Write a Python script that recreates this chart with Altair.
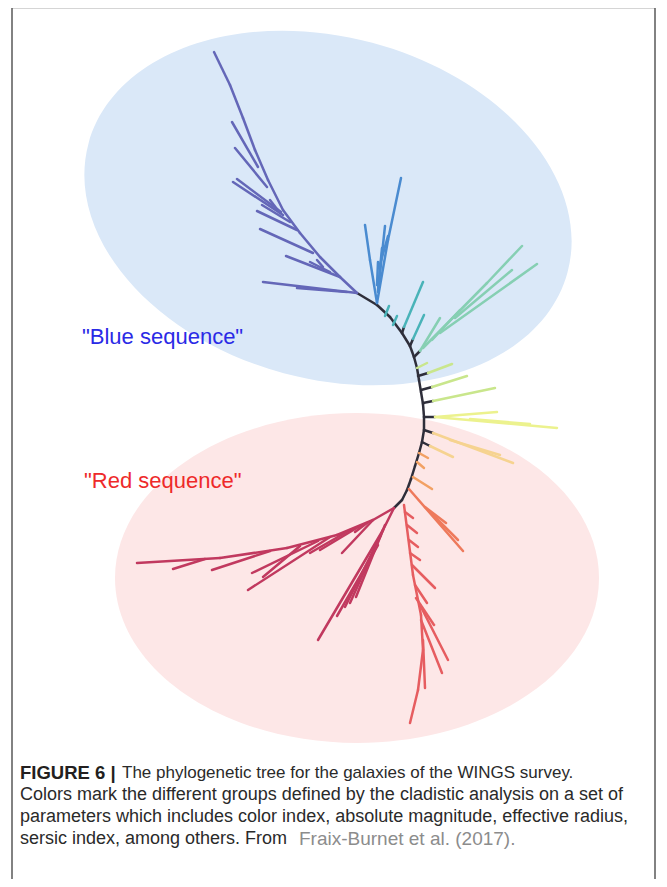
import altair as alt
import pandas as pd

# ---------------- data (figure coordinates, y grows downward) ----------------
ell_cx = [328, 357]
ell_cy = [208, 578]
ell_rx = [248, 242]
ell_ry = [171, 165]
ell_tilt = [15, 0]
ell_fill = ["#dae8f8", "#fde7e7"]

groups = ["stem", "purple", "blue", "teal", "green", "lime", "yellow",
          "paleorange", "orange", "corallight", "coral", "crimson"]
group_colors = ["#2e2e3a", "#6467b8", "#4a8bd0", "#49b3b8", "#86cfb3", "#c9e68c",
                "#ecf28e", "#f6d390", "#f2a164", "#ee7a5c", "#e65d60", "#c1395f"]

stem = [(357, 293, 377, 305), (377, 305, 390, 317), (390, 317, 402, 333), (402, 333, 410, 346),
        (410, 346, 414, 357), (414, 357, 417, 368), (417, 368, 419, 380), (419, 380, 421, 392),
        (421, 392, 423, 404), (423, 404, 424, 417), (424, 417, 424, 430), (424, 430, 422, 442),
        (422, 442, 419, 453), (419, 453, 415, 466), (415, 466, 411, 479), (411, 479, 407, 490),
        (407, 490, 402, 500), (402, 500, 394, 508),
        (402, 333, 404, 327), (410, 346, 413, 339), (414, 357, 420, 351),
        (418, 376, 428, 373), (421, 390, 432, 387), (423, 403, 433, 401), (424, 417, 435, 417),
        (424, 430, 433, 433), (422, 442, 430, 446)]

purple = [(357, 293, 340, 277), (340, 277, 320, 257), (320, 257, 300, 233), (300, 233, 283, 210),
          (283, 210, 268, 180), (268, 180, 255, 150), (255, 150, 243, 118), (243, 118, 230, 85),
          (230, 85, 214, 52),
          (357, 293, 263, 282), (347, 292, 297, 288), (340, 277, 286, 256), (323, 267, 317, 260),
          (313, 253, 260, 229), (297, 230, 257, 211), (280, 213, 270, 200), (283, 215, 233, 182),
          (281, 212, 237, 179), (267, 187, 235, 148), (258, 167, 232, 122), (330, 272, 310, 262),
          (290, 222, 262, 205)]

blue = [(377, 303, 388, 240), (388, 240, 401, 178), (377, 303, 370, 260), (370, 260, 365, 225),
        (378, 292, 385, 226), (378, 290, 382, 248), (377, 285, 378, 262), (379, 268, 388, 236)]

teal = [(385, 316, 389, 306), (393, 325, 397, 316), (404, 327, 423, 282), (413, 339, 424, 315)]

green = [(420, 351, 440, 318), (423, 348, 487, 283), (487, 283, 522, 246), (440, 333, 537, 264),
         (455, 318, 512, 270), (432, 340, 460, 310)]

lime = [(417, 368, 427, 363), (428, 373, 452, 364), (432, 387, 467, 376), (433, 401, 495, 388)]

yellow = [(435, 417, 497, 412), (435, 417, 557, 428), (470, 419, 530, 424)]

paleorange = [(433, 433, 513, 463), (450, 440, 500, 455), (430, 446, 453, 457)]

orange = [(419, 453, 428, 458), (417, 462, 424, 468), (413, 477, 432, 489)]

corallight = [(409, 489, 463, 551), (430, 512, 458, 540), (425, 507, 446, 523)]

coral = [(404, 505, 413, 575), (413, 575, 421, 615), (421, 615, 423, 650), (423, 650, 418, 690),
         (418, 690, 410, 723),
         (405, 512, 413, 518), (407, 525, 417, 533), (409, 540, 418, 547), (410, 553, 420, 560),
         (412, 565, 435, 588), (415, 585, 427, 603), (420, 605, 448, 660), (421, 620, 442, 673),
         (423, 640, 425, 688), (416, 598, 434, 625)]

crimson = [(394, 508, 373, 520), (373, 520, 337, 535), (337, 535, 287, 548), (287, 548, 220, 558),
           (220, 558, 137, 563),
           (373, 520, 342, 553), (360, 526, 320, 550), (350, 530, 310, 553), (330, 537, 248, 590),
           (318, 541, 252, 573), (300, 546, 263, 577), (270, 551, 212, 570), (205, 559, 173, 569),
           (367, 523, 355, 532),
           (394, 508, 383, 530), (383, 530, 318, 640), (383, 530, 350, 603), (381, 535, 345, 607),
           (385, 525, 356, 597), (378, 545, 337, 616)]

labels = ['"Blue sequence"', '"Red sequence"']
label_x = [82, 84]
label_y = [337, 481]
label_colors = ["#2a2ae6", "#ee2a2a"]

caption_bold = ["FIGURE 6 |"]
caption_lines = ["The phylogenetic tree for the galaxies of the WINGS survey.",
                 "Colors mark the different groups defined by the cladistic analysis on a set of",
                 "parameters which includes color index, absolute magnitude, effective radius,",
                 "sersic index, among others. From"]
caption_ref = ["Fraix-Burnet et al. (2017)."]

# ---------------- build tables ----------------
clades = {"stem": stem, "purple": purple, "blue": blue, "teal": teal, "green": green,
          "lime": lime, "yellow": yellow, "paleorange": paleorange, "orange": orange,
          "corallight": corallight, "coral": coral, "crimson": crimson}
rows = []
for g, segs in clades.items():
    for (x0, y0, x1, y1) in segs:
        rows.append({"group": g, "x": x0, "y": y0, "x2": x1, "y2": y1})
tree_df = pd.DataFrame(rows)

W, H = 651, 871
xs = alt.Scale(domain=[8, 8 + W], nice=False, zero=False)
ys = alt.Scale(domain=[8, 8 + H], nice=False, zero=False, reverse=True)


def X(f="x"):
    return alt.X(f"{f}:Q", scale=xs, axis=None)


def Y(f="y"):
    return alt.Y(f"{f}:Q", scale=ys, axis=None)


layers = []
for i in range(len(ell_cx)):
    ratio = ell_ry[i] / ell_rx[i]
    path = f"M -1 0 A 1 {ratio:.4f} 0 1 1 1 0 A 1 {ratio:.4f} 0 1 1 -1 0 Z"
    edf = pd.DataFrame({"x": [ell_cx[i]], "y": [ell_cy[i]]})
    layers.append(
        alt.Chart(edf).mark_point(shape=path, filled=True, fill=ell_fill[i], opacity=1,
                                  strokeWidth=0, size=(2 * ell_rx[i]) ** 2,
                                  angle=ell_tilt[i])
        .encode(x=X(), y=Y())
    )

lab_df = pd.DataFrame({"x": label_x, "y": label_y, "t": labels, "c": label_colors})
layers.append(
    alt.Chart(lab_df).mark_text(align="left", baseline="middle", font="Liberation Sans",
                                fontSize=22)
    .encode(x=X(), y=Y(), text="t:N", color=alt.Color("c:N", scale=None))
)

layers.append(
    alt.Chart(tree_df).mark_rule(strokeWidth=2.5, strokeCap="round")
    .encode(x=X(), y=Y(), x2="x2:Q", y2="y2:Q",
            color=alt.Color("group:N", scale=alt.Scale(domain=groups, range=group_colors),
                            legend=None))
)

line_y = [773, 795, 817, 839]
line_x = [122, 20, 20, 20]
line_size = [17, 18, 18, 18]
cap_df = pd.DataFrame({"x": line_x, "y": line_y, "t": caption_lines, "s": line_size})
layers.append(
    alt.Chart(cap_df).mark_text(align="left", baseline="middle", font="Liberation Sans",
                                color="#2a2a2a")
    .encode(x=X(), y=Y(), text="t:N", size=alt.Size("s:Q", scale=None))
)
bold_df = pd.DataFrame({"x": [20], "y": [line_y[0]], "t": caption_bold})
layers.append(
    alt.Chart(bold_df).mark_text(align="left", baseline="middle", font="Liberation Sans",
                                 fontSize=18.5, fontWeight="bold", color="#231f20")
    .encode(x=X(), y=Y(), text="t:N")
)
ref_df = pd.DataFrame({"x": [299], "y": [line_y[3]], "t": caption_ref})
layers.append(
    alt.Chart(ref_df).mark_text(align="left", baseline="middle", font="Liberation Sans",
                                fontSize=19, color="#8c8c8c")
    .encode(x=X(), y=Y(), text="t:N")
)

frame_df = pd.DataFrame({"x": [12], "x2": [655], "y": [7.5], "y2": [900]})
layers.append(
    alt.Chart(frame_df).mark_rect(fill=None, stroke="#5a5a5a", strokeWidth=1.5, filled=False)
    .encode(x=X(), y=Y(), x2="x2:Q", y2="y2:Q")
)

chart = alt.layer(*layers).properties(width=W, height=H, padding=0, autosize="none") \
    .configure_view(stroke=None)

chart.save("out.html", embed_options={"renderer": "svg", "actions": False})
